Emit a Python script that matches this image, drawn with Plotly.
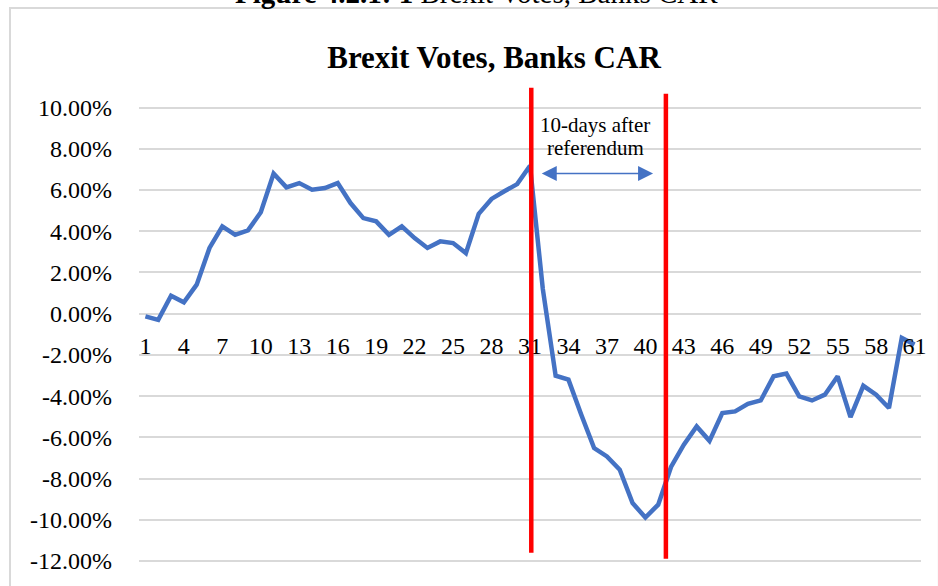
import plotly.graph_objects as go

# Cumulative abnormal returns (%) of banks around the Brexit vote, day 1..61
days = list(range(1, 62))
car_pct = [
    -0.13, -0.30, 0.87, 0.55, 1.41, 3.19, 4.24, 3.83, 4.05, 4.92,
    6.80, 6.13, 6.34, 6.02, 6.10, 6.34, 5.37, 4.64, 4.48, 3.83,
    4.24, 3.67, 3.19, 3.51, 3.43, 2.94, 4.85, 5.57, 5.94, 6.29,
    7.18, 1.20, -3.01, -3.20, -4.90, -6.52, -6.93, -7.57, -9.19, -9.89,
    -9.27, -7.44, -6.36, -5.47, -6.17, -4.82, -4.74, -4.37, -4.21, -3.04,
    -2.91, -4.01, -4.21, -3.93, -3.04, -5.02, -3.50, -3.93, -4.58, -1.18,
    -1.50,
]

x_ticks = list(range(1, 62, 3))
y_ticks = list(range(-12, 11, 2))
y_tick_text = [f"{v:.2f}%" for v in y_ticks]

# event window markers (day positions) and their vertical extents (%)
window_days = [31.1, 41.6]
window_top = [10.97, 10.68]
window_bottom = [-11.6, -11.89]

# arrow spanning the window
arrow_from, arrow_to, arrow_level = 31.8, 40.6, 6.8

W, H = 938, 586
ML, MR, MT, MB = 139, 11, 85, 23
Y_RANGE = [-12.1, 11.1]


def px_x(px):
    return (px - ML) / (W - ML - MR)


def px_y(py):
    return (H - MB - py) / (H - MT - MB)


fig = go.Figure()
fig.add_trace(go.Scatter(
    x=days, y=car_pct, mode="lines",
    line=dict(color="#4472C4", width=4.5),
    hoverinfo="skip", showlegend=False,
))

shapes = []
for xd, y0, y1 in zip(window_days, window_bottom, window_top):
    shapes.append(dict(type="line", xref="x", yref="y",
                       x0=xd, x1=xd, y0=y0, y1=y1,
                       line=dict(color="#FF0000", width=4.5), layer="above"))
# chart frame
shapes.append(dict(type="rect", xref="paper", yref="paper",
                   x0=px_x(9), x1=px_x(945), y0=px_y(595), y1=px_y(8),
                   line=dict(color="#D9D9D9", width=2), layer="below"))

zero_pos = (0 - Y_RANGE[0]) / (Y_RANGE[1] - Y_RANGE[0])

fig.update_layout(
    width=W, height=H,
    margin=dict(l=ML, r=MR, t=MT, b=MB),
    paper_bgcolor="white", plot_bgcolor="white",
    font=dict(family="Liberation Serif, Times New Roman, serif", color="black", size=24),
    title=dict(text="<b>Brexit Votes, Banks CAR</b>",
               font=dict(size=31, family="Liberation Serif, Times New Roman, serif", color="black"),
               xref="container", yref="container", x=494 / W, y=1 - 57 / H,
               xanchor="center", yanchor="middle"),
    xaxis=dict(range=[0.5, 61.5], tickmode="array", tickvals=x_ticks,
               ticktext=[str(t) for t in x_ticks], showgrid=False, zeroline=False,
               showline=False, ticks="", anchor="free", position=zero_pos,
               ticklabelstandoff=15, tickfont=dict(size=24)),
    yaxis=dict(range=Y_RANGE, tickmode="array", tickvals=y_ticks, ticktext=y_tick_text,
               showgrid=True, gridcolor="#D9D9D9", gridwidth=1.5, zeroline=False,
               showline=False, ticks="", ticklabelstandoff=26, tickfont=dict(size=24)),
    shapes=shapes,
    annotations=[
        dict(text="10-days after", x=36.1, y=9.17, xref="x", yref="y",
             showarrow=False, font=dict(size=21), xanchor="center", yanchor="middle"),
        dict(text="referendum", x=36.1, y=8.06, xref="x", yref="y",
             showarrow=False, font=dict(size=21), xanchor="center", yanchor="middle"),
        dict(text="", x=arrow_to, y=arrow_level, ax=arrow_from, ay=arrow_level,
             xref="x", yref="y", axref="x", ayref="y", showarrow=True,
             arrowhead=2, startarrowhead=2, arrowside="end+start",
             arrowwidth=1.5, arrowsize=2, startarrowsize=2, arrowcolor="#4472C4"),
        dict(text="<b>Figure 4.2.1: 1</b> Brexit Votes, Banks CAR",
             xref="paper", yref="paper", x=px_x(479), y=px_y(11),
             xanchor="center", yanchor="bottom", showarrow=False,
             font=dict(size=29)),
    ],
)

fig.write_html("out.html")
